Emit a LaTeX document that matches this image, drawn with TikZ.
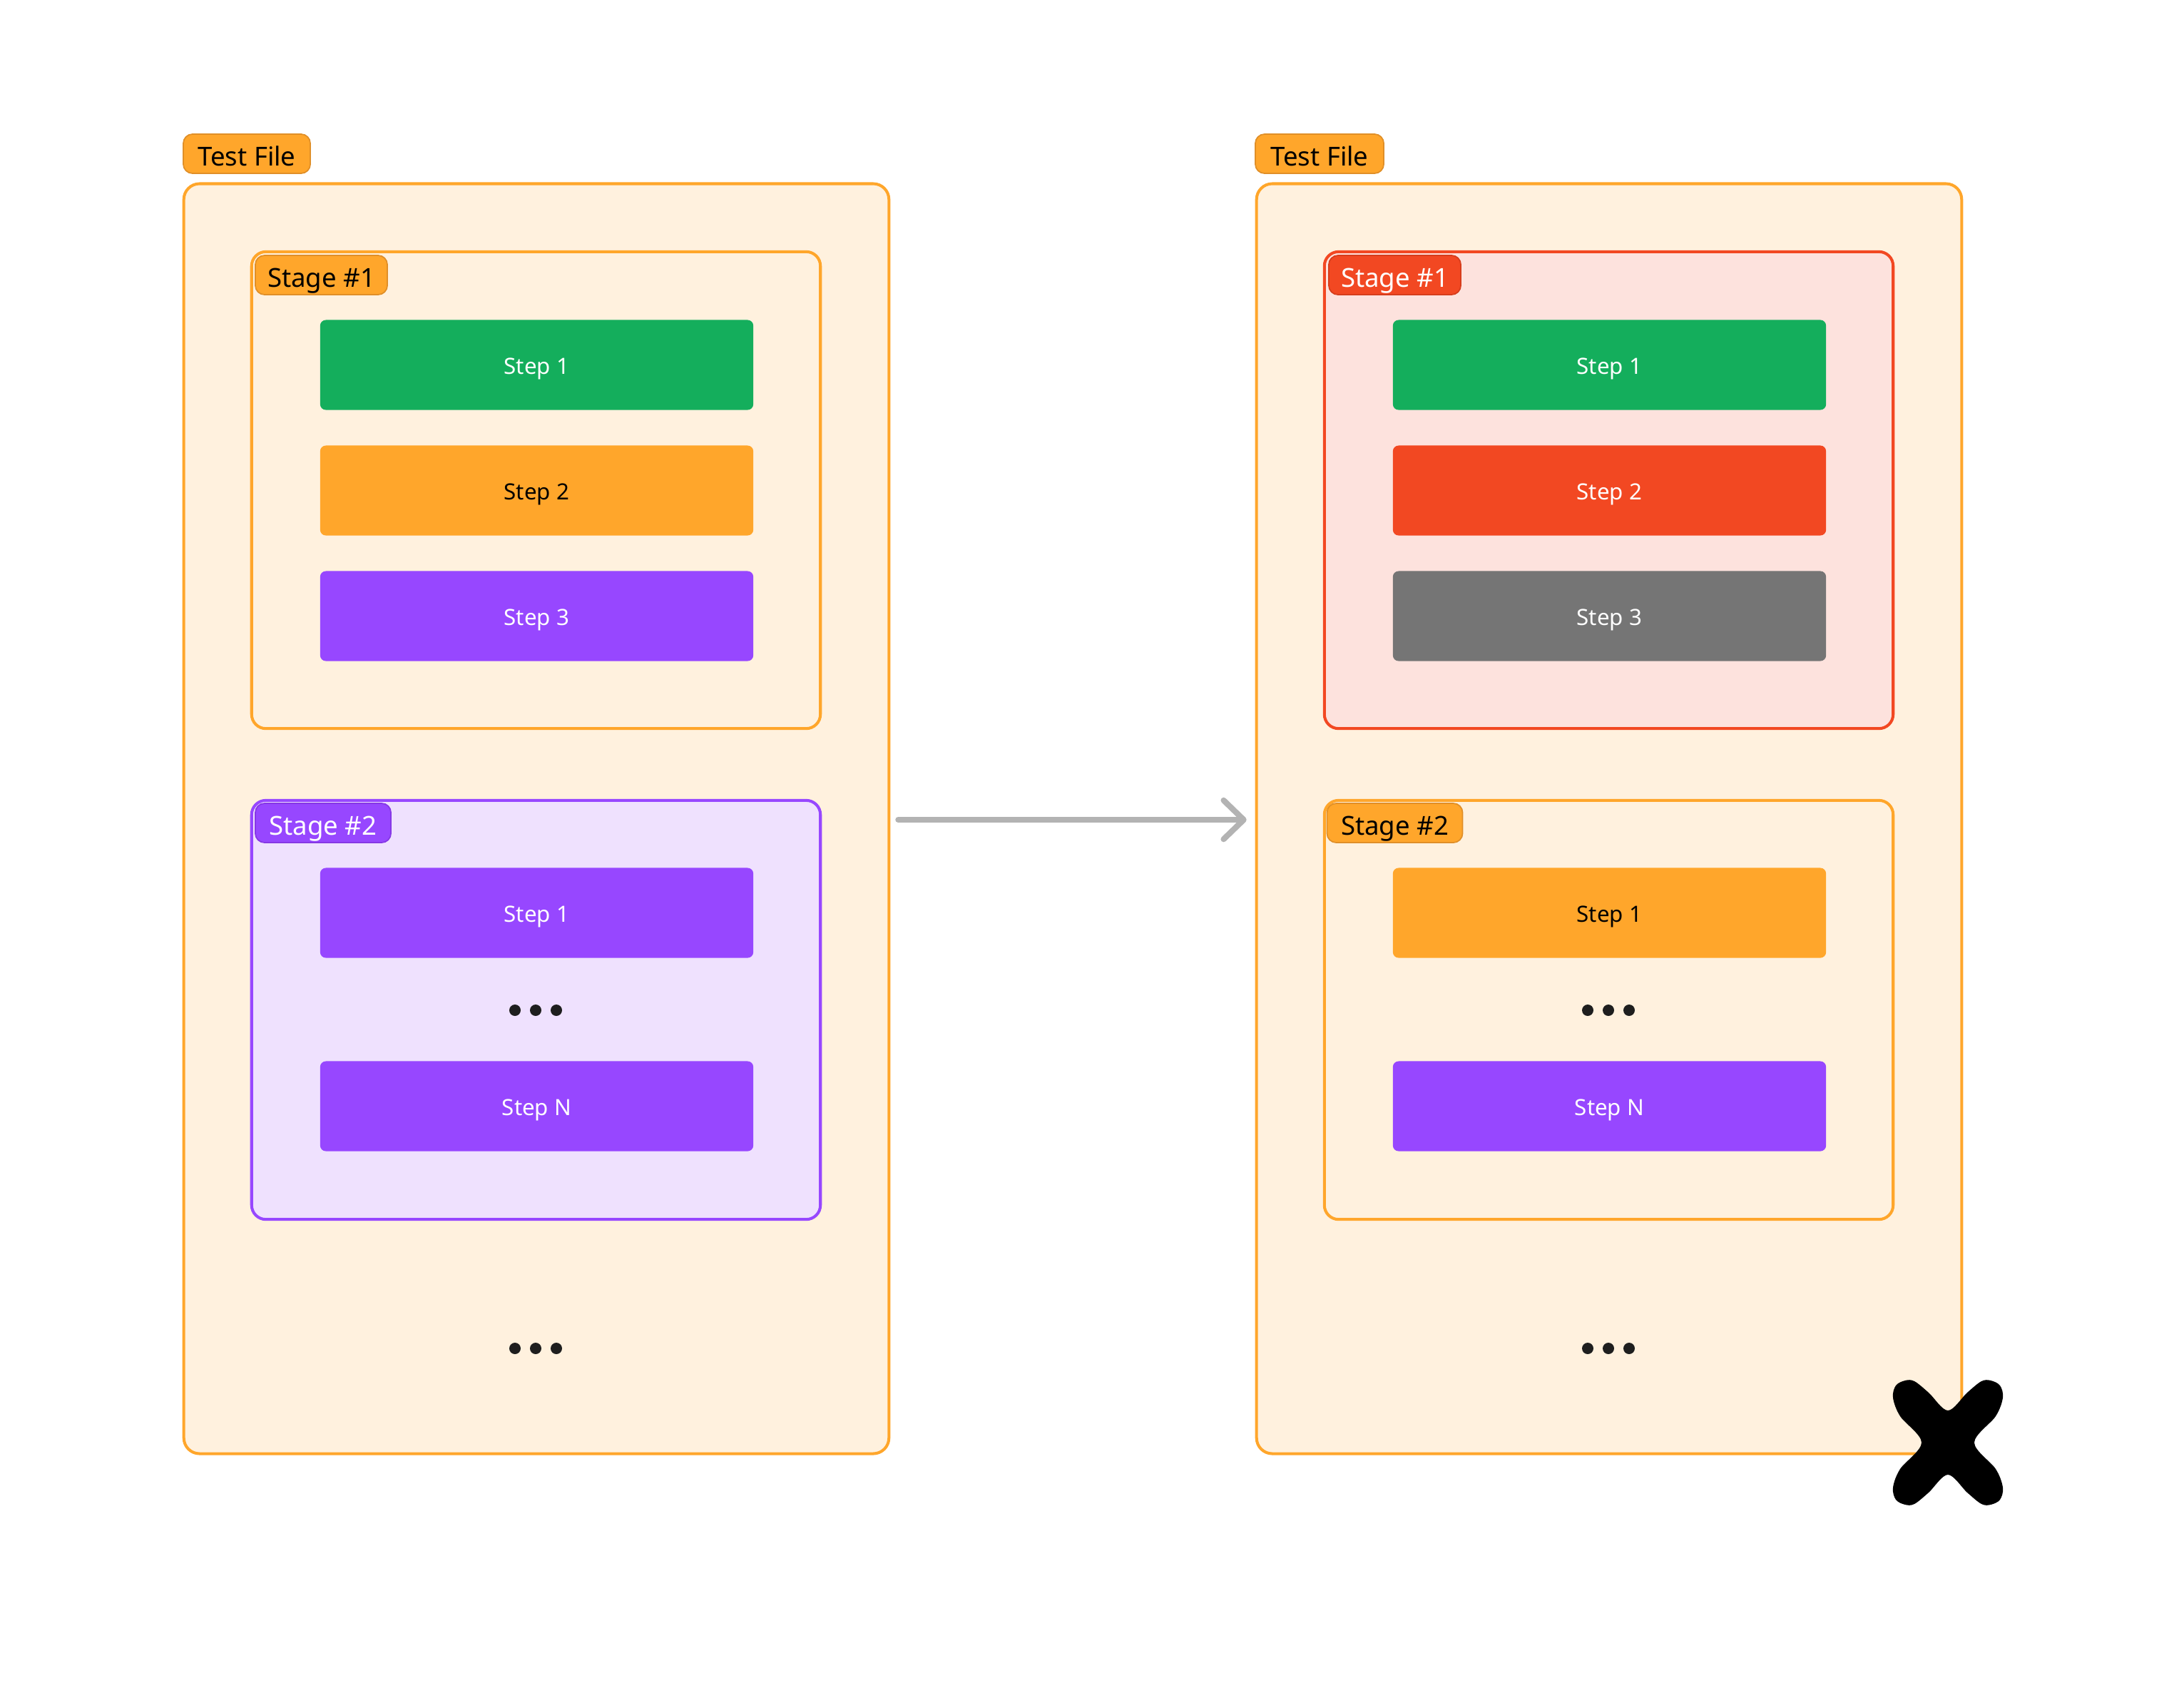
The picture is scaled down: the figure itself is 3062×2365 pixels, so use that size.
\documentclass[tikz,border=0pt]{standalone}
\usepackage{fontspec}
\setmainfont{Noto Sans}
\usetikzlibrary{arrows.meta}
\definecolor{orng}{HTML}{FFA62B}
\definecolor{orngdk}{HTML}{E08F28}
\definecolor{cream}{HTML}{FFF1DE}
\definecolor{grn}{HTML}{14AE5C}
\definecolor{purp}{HTML}{9747FF}
\definecolor{purpdk}{HTML}{8638E5}
\definecolor{lpurp}{HTML}{EFE1FE}
\definecolor{redd}{HTML}{F24822}
\definecolor{reddk}{HTML}{D63D1C}
\definecolor{lred}{HTML}{FDE2DD}
\definecolor{gry}{HTML}{757575}
\definecolor{arrowgray}{HTML}{B3B3B3}
\definecolor{dotc}{HTML}{1E1E1E}
\tikzset{
  filebox/.style={draw=orng, fill=cream, line width=1.15pt, rounded corners=0.22cm,
    minimum width=9.88cm, minimum height=17.79cm, inner sep=0pt},
  stagebox/.style={line width=1.15pt, rounded corners=0.2cm,
    minimum width=7.97cm, inner sep=0pt},
  tag/.style={line width=0.5pt, rounded corners=0.13cm, minimum height=0.55cm,
    inner sep=0pt, text height=9.5pt, text depth=0pt, font=\fontsize{10.4pt}{12pt}\selectfont},
  stepbox/.style={rounded corners=0.08cm, minimum width=6.07cm, minimum height=1.26cm,
    inner sep=0pt, text height=7.5pt, text depth=0pt, font=\fontsize{8.9pt}{10pt}\selectfont},
  dotnode/.style={circle, fill=dotc, minimum size=0.16cm, inner sep=0pt},
}
\begin{document}
\begin{tikzpicture}[x=0.01cm, y=-0.01cm]
\useasboundingbox (0,0) rectangle (3062,2365);
\fill[white] (0,0) rectangle (3062,2365);

% ---------- left file ----------
\node[filebox] (fileL) at (752,1147.5) {};
\node[tag, fill=orng, draw=orngdk, minimum width=1.78cm] (tagL) at (346,215.5) {Test File};

\node[stagebox, draw=orng, fill=cream, minimum height=6.68cm] (s1L) at (751.5,687) {};
\node[tag, fill=orng, draw=orngdk, minimum width=1.85cm] (s1tagL) at (450.5,385.5) {Stage \#1};
\node[stepbox, fill=grn, text=white] (a1L) at (752.5,511.5) {Step 1};
\node[stepbox, fill=orng, text=black] (a2L) at (752.5,687.5) {Step 2};
\node[stepbox, fill=purp, text=white] (a3L) at (752.5,863.5) {Step 3};

\node[stagebox, draw=purp, fill=lpurp, minimum height=5.87cm] (s2L) at (751.5,1415.5) {};
\node[tag, fill=purp, draw=purpdk, text=white, minimum width=1.90cm] (s2tagL) at (453,1153.5) {Stage \#2};
\node[stepbox, fill=purp, text=white] (b1L) at (752.5,1279.5) {Step 1};
\node[dotnode] (d1L) at (722,1416) {};
\node[dotnode] (d2L) at (751,1416) {};
\node[dotnode] (d3L) at (780,1416) {};
\node[stepbox, fill=purp, text=white] (bNL) at (752.5,1550.5) {Step N};

\node[dotnode] (e1L) at (722,1890) {};
\node[dotnode] (e2L) at (751,1890) {};
\node[dotnode] (e3L) at (780,1890) {};

% ---------- right file ----------
\node[filebox] (fileR) at (2256,1147.5) {};
\node[tag, fill=orng, draw=orngdk, minimum width=1.80cm] (tagR) at (1850,215.5) {Test File};

\node[stagebox, draw=redd, fill=lred, minimum height=6.68cm] (s1R) at (2255.5,687) {};
\node[tag, fill=redd, draw=reddk, text=white, minimum width=1.85cm] (s1tagR) at (1955.5,385.5) {Stage \#1};
\node[stepbox, fill=grn, text=white] (a1R) at (2256.5,511.5) {Step 1};
\node[stepbox, fill=redd, text=white] (a2R) at (2256.5,687.5) {Step 2};
\node[stepbox, fill=gry, text=white] (a3R) at (2256.5,863.5) {Step 3};

\node[stagebox, draw=orng, fill=cream, minimum height=5.87cm] (s2R) at (2255.5,1415.5) {};
\node[tag, fill=orng, draw=orngdk, minimum width=1.90cm] (s2tagR) at (1955.5,1153.5) {Stage \#2};
\node[stepbox, fill=orng, text=black] (b1R) at (2256.5,1279.5) {Step 1};
\node[dotnode] (d1R) at (2226,1416) {};
\node[dotnode] (d2R) at (2255,1416) {};
\node[dotnode] (d3R) at (2284,1416) {};
\node[stepbox, fill=purp, text=white] (bNR) at (2256.5,1550.5) {Step N};

\node[dotnode] (e1R) at (2226,1890) {};
\node[dotnode] (e2R) at (2255,1890) {};
\node[dotnode] (e3R) at (2284,1890) {};

% ---------- arrow ----------
\draw[arrowgray, line width=2.3pt, line cap=round,
  -{Straight Barb[length=8pt, width=15.5pt, line cap=round, line join=round]},
  shorten <=0.11cm, shorten >=0.12cm]
  (fileL.east |- 0,1149) -- (fileR.west |- 0,1149);

% ---------- cross ----------
\begin{scope}[shift={(2731,2022)}]
\fill[black] plot[smooth cycle, tension=0.55] coordinates {
 (-37,0) (-67,-37) (-77,-63) (-73,-80) (-60,-87) (-47,-86) (-27,-70) (0,-45)
 (27,-70) (47,-86) (60,-87) (73,-80) (77,-63) (67,-37) (37,0)
 (67,37) (77,63) (73,80) (60,87) (47,86) (27,70) (0,45)
 (-27,70) (-47,86) (-60,87) (-73,80) (-77,63) (-67,37)};
\end{scope}
\end{tikzpicture}
\end{document}
